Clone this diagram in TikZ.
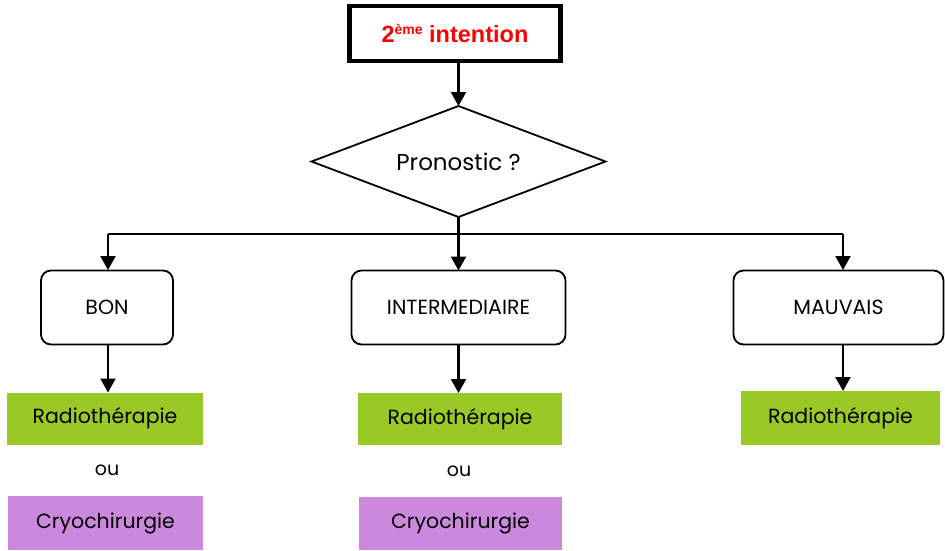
\documentclass[tikz,border=0pt]{standalone}
\usepackage{fontspec}
\setmainfont{Poppins}
\newfontfamily\titlefont{Liberation Sans}
\usetikzlibrary{arrows.meta,shapes.geometric}
\definecolor{leafgreen}{HTML}{99C924}
\definecolor{lilac}{HTML}{CC88DD}
\definecolor{titlered}{HTML}{FF0000}
\begin{document}
\begin{tikzpicture}[x=1pt,y=-1pt,
  every node/.style={inner sep=0pt, outer sep=0pt},
  titlebox/.style={draw, line width=4.5pt, minimum width=211pt, minimum height=55pt,
    font=\titlefont\bfseries\fontsize{23.5}{28}\selectfont, text=titlered},
  question/.style={draw, line width=1.8pt, diamond, aspect=2.65,
    minimum width=294pt, minimum height=111pt, font=\fontsize{23}{27}\selectfont},
  casebox/.style={draw, line width=1.8pt, rounded corners=10pt, minimum height=74pt,
    font=\fontsize{20.5}{24}\selectfont},
  treatment/.style={minimum height=52pt, font=\fontsize{20.5}{24}\selectfont},
  ortext/.style={font=\fontsize{19}{22}\selectfont},
  link/.style={line width=2.2pt, -{Triangle[width=15pt,length=14pt]}},
  plainlink/.style={line width=2.2pt}
]
\useasboundingbox (0,0) rectangle (945,550);

% top of the decision chain
\node[titlebox] (title) at (455,33.5)
  {2\raisebox{0.6ex}{\fontsize{14}{16}\selectfont ème} intention};
\node[question] (prog) at (458.5,161.5) {Pronostic ?};

% prognosis classes
\node[casebox, minimum width=132pt] (bon) at (107,307.5) {BON};
\node[casebox, minimum width=214pt] (inter) at (458.5,307.5) {INTERMEDIAIRE};
\node[casebox, minimum width=210pt] (mauv) at (838.5,307.5) {MAUVAIS};

% treatments
\node[treatment, fill=leafgreen, minimum width=196pt] (radA) at (105,418.5) {Radiothérapie};
\node[ortext] (orA) at (107,470) {ou};
\node[treatment, fill=lilac, minimum width=195pt, minimum height=54pt] (cryoA) at (105.5,523) {Cryochirurgie};

\node[treatment, fill=leafgreen, minimum width=204pt] (radB) at (460,419) {Radiothérapie};
\node[ortext] (orB) at (459,471) {ou};
\node[treatment, fill=lilac, minimum width=203pt, minimum height=53pt] (cryoB) at (460.5,523.5) {Cryochirurgie};

\node[treatment, fill=leafgreen, minimum width=199pt, minimum height=54pt] (radC) at (840.5,418) {Radiothérapie};

% connectors
\coordinate (bus) at (458.5,234);
\coordinate (bonTop) at (108,270);
\coordinate (mauvTop) at (843,270);

\draw[link] (title.south -| prog.north) -- (prog.north);
\draw[link] (prog.south) -- (inter.north);
\draw[plainlink] (bonTop |- bus) -- (mauvTop |- bus);
\draw[link] (bonTop |- bus) -- (bonTop);
\draw[link] (mauvTop |- bus) -- (mauvTop);

\draw[link] (bonTop |- bon.south) -- (bonTop |- radA.north);
\draw[link] (inter.south) -- (inter.south |- radB.north);
\draw[link] (mauvTop |- mauv.south) -- (mauvTop |- radC.north);
\end{tikzpicture}
\end{document}
